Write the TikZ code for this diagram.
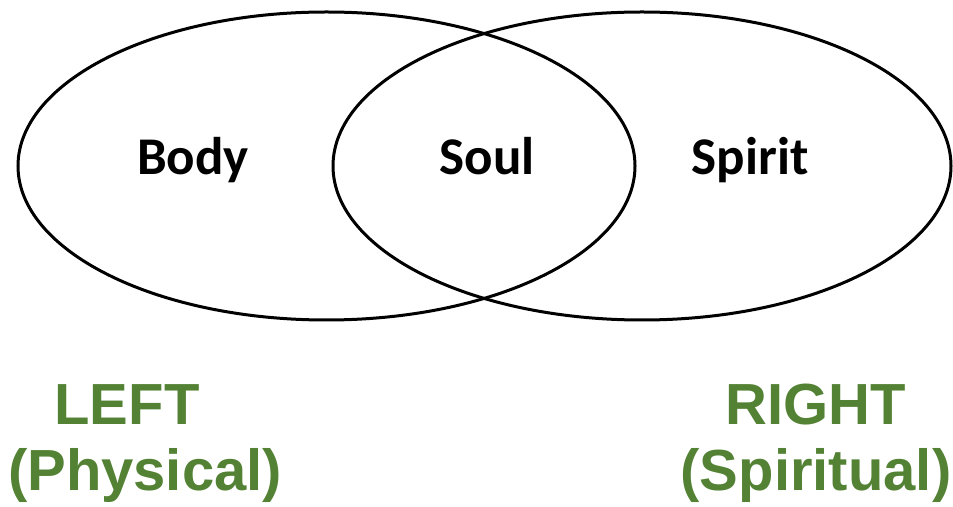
\documentclass[tikz,border=0pt]{standalone}
\usepackage{fontspec}
\setmainfont{Carlito}
\newfontfamily\armfont{Liberation Sans}
\definecolor{leafgreen}{HTML}{548235}
\usepackage{tikz}

\begin{document}
\begin{tikzpicture}[x=1pt,y=1pt,
	part/.style={anchor=base,font=\fontsize{53}{60}\selectfont\bfseries},
	side/.style={anchor=base,text=leafgreen,font=\armfont\fontsize{58}{66}\selectfont\bfseries}]
	\useasboundingbox (0,0) rectangle (953,506);
	% the two rings
	\draw[line width=3pt] (326.5,340) ellipse (308.5 and 154);
	\draw[line width=3pt] (642,340) ellipse (309 and 154);
	% words inside
	\node[part] (body) at (193,331) {Body};
	\node[part] (soul) at (487,331) {Soul};
	\node[part] (spirit) at (750,331) {Spirit};
	% left and right
	\node[side] (left) at (127,81) {LEFT};
	\node[side] (phys) at (145,16) {(Physical)};
	\node[side] (right) at (816,81) {RIGHT};
	\node[side] (spir) at (816,16) {(Spiritual)};
\end{tikzpicture}
\end{document}
